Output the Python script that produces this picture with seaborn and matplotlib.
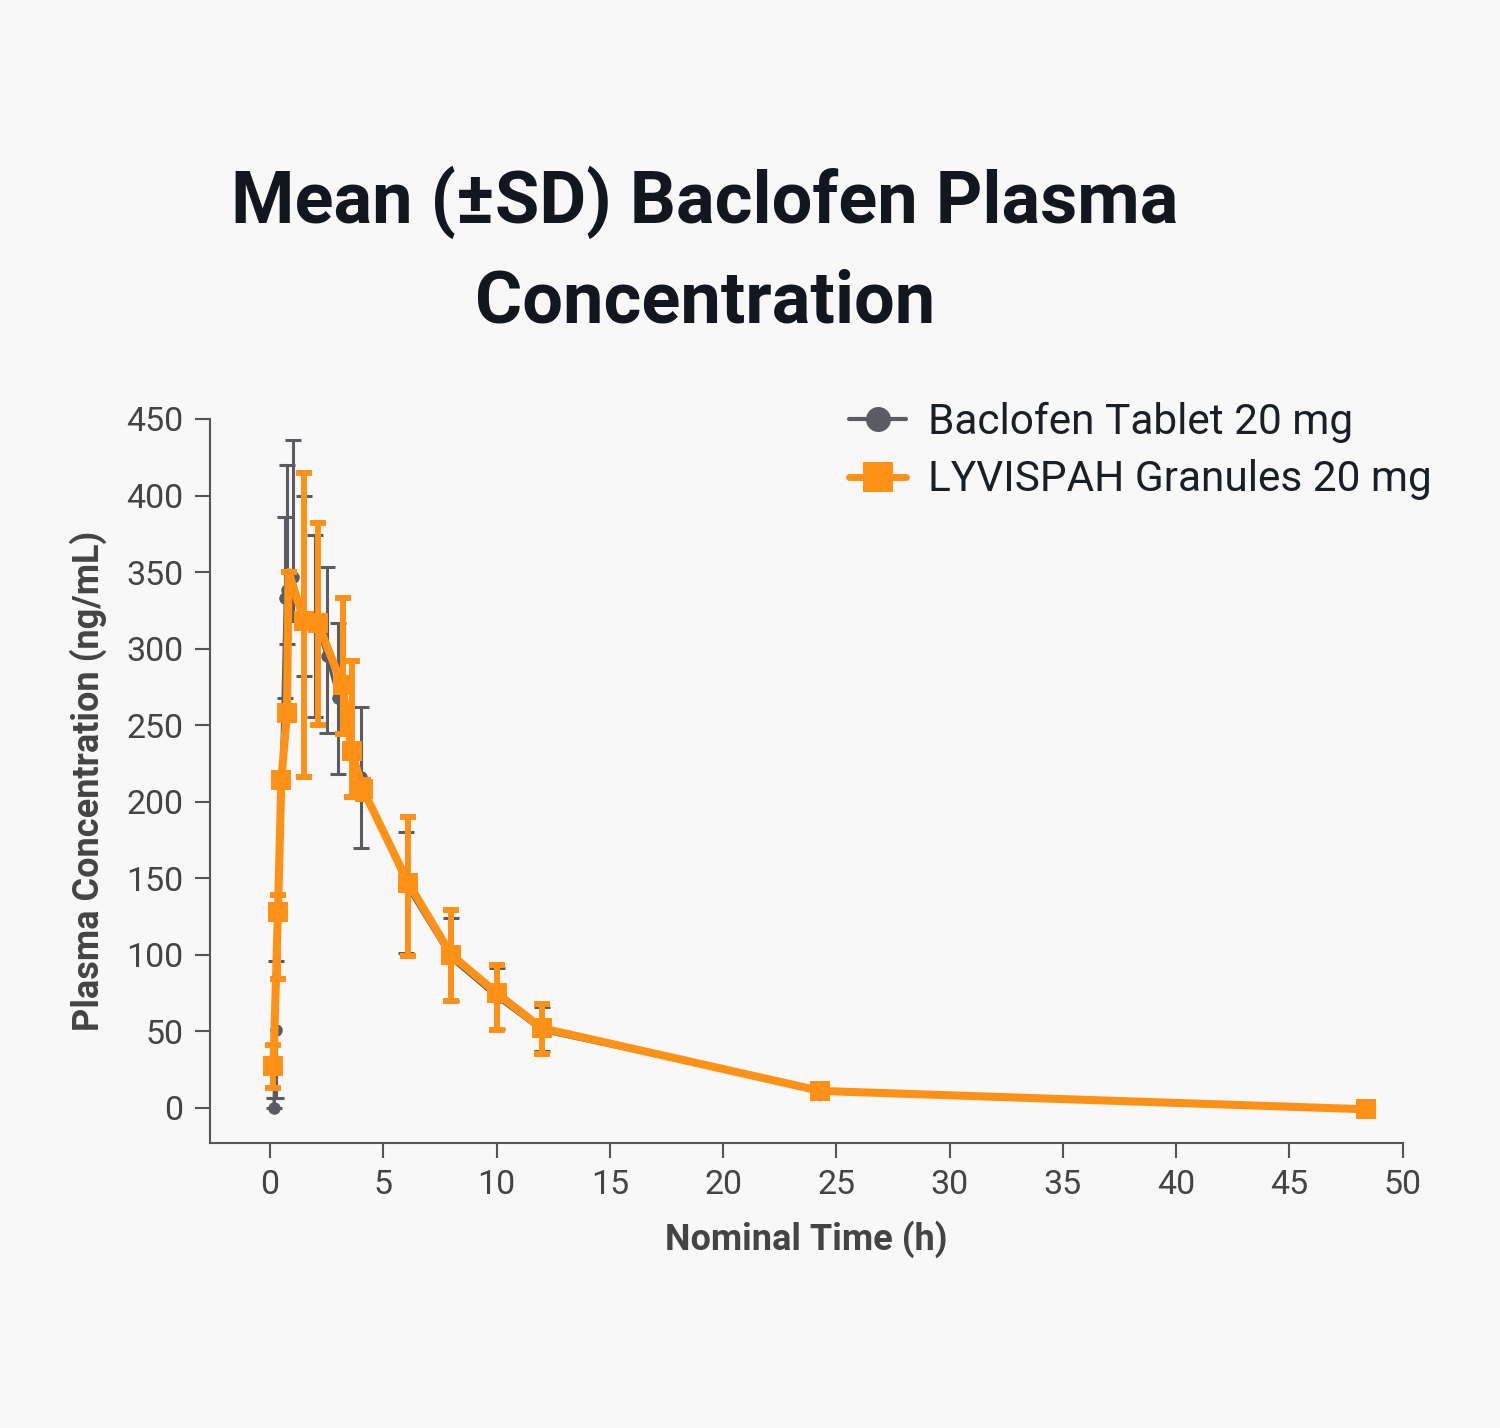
import numpy as np
import pandas as pd
import seaborn as sns
import matplotlib.pyplot as plt
from matplotlib.lines import Line2D

# Baclofen Tablet 20 mg (grey)
tab_time = [0.17, 0.25, 0.67, 0.75, 1.0, 1.5, 2.0, 2.5, 3.0, 4.0, 6.0, 8.0, 10.0, 12.0, 24.3, 48.4]
tab_mean = [0, 51, 333, 338, 347, 320, 317, 295, 268, 216, 145, 97, 72, 50, 11, -1]
tab_lo = [0, 6.5, 268, 303, 318, 282, 255, 245, 218, 170, 101, 70, 51.5, 37, 8, -2]
tab_hi = [6.5, 96, 386, 420, 436, 400, 374, 353, 317, 262, 180, 124, 91, 66, 14, 0]

# LYVISPAH Granules 20 mg (orange)
ly_time = [0.15, 0.35, 0.5, 0.75, 0.82, 1.5, 2.1, 3.2, 3.6, 4.1, 6.1, 8.0, 10.0, 12.0, 24.3, 48.4]
ly_mean = [27, 128, 214, 258, 350, 318, 317, 276, 233, 208, 147, 100, 75, 52, 11, -1]
ly_lo = [13, 84, 214, 258, 350, 216, 250, 244, 203, 202, 99, 69.5, 50.5, 35, 8, -2]
ly_hi = [41, 139, 214, 258, 350, 415, 382, 333, 292, 214, 190, 129, 93.4, 68, 14, 0]
# the peak vertex shows no square marker in the picture
ly_marked = [0, 1, 2, 3, 5, 6, 7, 8, 9, 10, 11, 12, 13, 14, 15]

x_ticks = np.arange(0, 51, 5)
y_ticks = np.arange(0, 451, 50)

grey = '#5b5c61'
orange = '#ff9117'
bg = '#f8f8f8'

sns.set_theme(style='ticks')
plt.rcParams['font.family'] = ['Roboto', 'DejaVu Sans']

fig = plt.figure(figsize=(15, 14.28), dpi=100, facecolor=bg)
ax = fig.add_axes([0.14, 0.1996, 0.795, 0.507])
ax.set_facecolor(bg)

tab_df = pd.DataFrame({'time': tab_time, 'conc': tab_mean})
ly_df = pd.DataFrame({'time': ly_time, 'conc': ly_mean})

# grey series underneath
ax.errorbar(tab_time, tab_mean,
            yerr=[np.array(tab_mean) - np.array(tab_lo), np.array(tab_hi) - np.array(tab_mean)],
            fmt='none', ecolor=grey, elinewidth=2.2, capsize=6, capthick=2.2, zorder=2)
sns.lineplot(data=tab_df, x='time', y='conc', ax=ax, color=grey, linewidth=2.2,
             marker='o', markersize=9, markeredgewidth=0, sort=False, zorder=3)

# orange series on top
ax.errorbar(ly_time, ly_mean,
            yerr=[np.array(ly_mean) - np.array(ly_lo), np.array(ly_hi) - np.array(ly_mean)],
            fmt='none', ecolor=orange, elinewidth=4.3, capsize=6, capthick=4.3, zorder=4)
sns.lineplot(data=ly_df, x='time', y='conc', ax=ax, color=orange, linewidth=5.8,
             marker='s', markersize=14, markeredgewidth=0, markevery=ly_marked,
             sort=False, zorder=5)

ax.set_xlim(-2.65, 50)
ax.set_ylim(-23, 450)
ax.set_xticks(x_ticks)
ax.set_yticks(y_ticks)
ax.tick_params(axis='both', colors='#555555', labelcolor='#444444', labelsize=24.5,
               length=11, width=1.5, direction='out', pad=8)
for side in ['top', 'right']:
    ax.spines[side].set_visible(False)
for side in ['left', 'bottom']:
    ax.spines[side].set_color('#555555')
    ax.spines[side].set_linewidth(1.5)

ax.set_xlabel('Nominal Time (h)', fontsize=26, fontweight='bold', color='#444444', labelpad=14)
ax.set_ylabel('Plasma Concentration (ng/mL)', fontsize=26, fontweight='bold', color='#444444', labelpad=14)

fig.text(0.47, 0.824, 'Mean (±SD) Baclofen Plasma\nConcentration', ha='center', va='center',
         fontsize=52, fontweight='bold', color='#12171f', linespacing=1.55)

handles = [
    Line2D([], [], color=grey, linewidth=3, marker='o', markersize=18, markeredgewidth=0),
    Line2D([], [], color=orange, linewidth=5, marker='s', markersize=21, markeredgewidth=0),
]
leg = ax.legend(handles, ['Baclofen Tablet 20 mg', 'LYVISPAH Granules 20 mg'],
                loc='upper left', bbox_to_anchor=(0.504, 1.076), frameon=False,
                fontsize=30.5, handlelength=1.35, handletextpad=0.5, labelspacing=0.38)
for t in leg.get_texts():
    t.set_color('#1a1f26')

fig.savefig('out.png', dpi=100, facecolor=bg)
